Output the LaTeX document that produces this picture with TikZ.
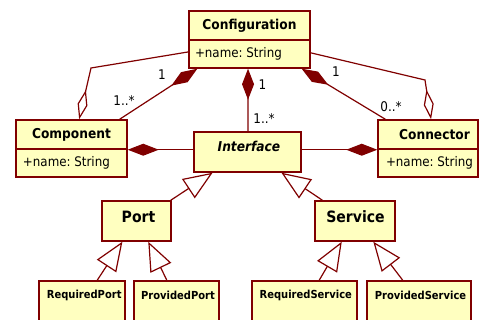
\documentclass[tikz,border=0pt]{standalone}
\usepackage{fontspec}
\setmainfont[FakeStretch=0.9]{DejaVu Sans}
\usetikzlibrary{arrows.meta,calc}
\definecolor{umlred}{HTML}{800000}
\definecolor{umlfill}{HTML}{FFFFC0}
\frenchspacing
\newcommand{\attrtext}[3]{\makebox[#1][l]{\hspace*{#2}#3}}
\begin{document}
\begin{tikzpicture}[x=0.75pt,y=-0.75pt,
  box/.style={draw=umlred, fill=umlfill, line width=1.1pt, inner sep=0pt, rectangle},
  cname/.style={font=\fontsize{10.2}{12}\selectfont\bfseries},
  iname/.style={font=\fontsize{10.2}{12}\selectfont\bfseries\itshape},
  bigname/.style={font=\fontsize{11.7}{13}\selectfont\bfseries},
  smallname/.style={font=\fontsize{8.3}{10}\selectfont\bfseries},
  attr/.style={font=\fontsize{9.9}{12}\selectfont},
  mult/.style={font=\fontsize{10}{12}\selectfont, inner sep=0pt},
  link/.style={draw=umlred, line width=0.9pt},
  compo/.style={link, arrows={Diamond[length=23.25pt,width=9pt]-}},
  compoend/.style={link, arrows={-Diamond[length=23.25pt,width=9pt]}},
  aggr/.style={link, arrows={-Diamond[open,length=22.5pt,width=7.5pt]}},
  gen/.style={link, arrows={-Triangle[open,length=21.75pt,width=17.25pt]}}
]
\clip (0,0) rectangle (479,320);
\fill[white] (0,0) rectangle (479,320);

% Configuration
\node[box, cname, minimum width=90.75pt, minimum height=21.75pt] (confname) at (249.5,25.5) {Configuration};
\node[box, attr, minimum width=90.75pt, minimum height=21pt] (confattr) at (249.5,54) {\attrtext{90.75pt}{4.5pt}{+name: String}};

% Component
\node[box, cname, minimum width=83.25pt, minimum height=21.75pt] (compname) at (71.5,134.5) {Component};
\node[box, attr, minimum width=83.25pt, minimum height=21pt] (compattr) at (71.5,163) {\attrtext{83.25pt}{5.25pt}{+name: String}};

% Connector
\node[box, cname, minimum width=75pt, minimum height=21.75pt] (connname) at (428,134.5) {\hspace*{9.75pt}Connector};
\node[box, attr, minimum width=75pt, minimum height=21pt] (connattr) at (428,163) {\attrtext{75pt}{6pt}{+name: String}};

% Interface
\node[box, minimum width=80.25pt, minimum height=30pt] (iface) at (247.5,152) {};
\node[iname] (ifacetxt) at (249,146) {Interface};

% Port, Service
\node[box, minimum width=51.75pt, minimum height=30pt] (port) at (136.5,221) {};
\node[bigname] (porttxt) at (138.5,217) {Port};
\node[box, minimum width=60pt, minimum height=30pt] (serv) at (355,221) {};
\node[bigname] (servtxt) at (355.5,216.5) {Service};

% Bottom classes
\node[box, minimum width=64.5pt, minimum height=45pt] (reqport) at (82,311) {};
\node[smallname] (reqporttxt) at (84.2,295.5) {RequiredPort};
\node[box, minimum width=63.75pt, minimum height=45pt] (provport) at (176.5,311) {};
\node[smallname] (provporttxt) at (178,295.5) {ProvidedPort};
\node[box, minimum width=78.75pt, minimum height=45pt] (reqserv) at (304.5,311) {};
\node[smallname] (reqservtxt) at (305.8,295.5) {RequiredService};
\node[box, minimum width=78pt, minimum height=45pt] (provserv) at (419,311) {};
\node[smallname] (provservtxt) at (420.5,295.5) {ProvidedService};

% bend points
\coordinate (bendL) at (91,68);
\coordinate (bendR) at (425,80);

% Aggregations
\draw[aggr] ($(confattr.north west)!0.43!(confattr.south west)$) -- (bendL) -- ($(compname.north west)!0.568!(compname.north east)$);
\draw[aggr] ($(confattr.north east)!0.46!(confattr.south east)$) -- (bendR) -- ($(connname.north west)!0.53!(connname.north east)$);

% Compositions
\draw[compo] ($(confattr.south west)!0.074!(confattr.south east)$) -- ($(compname.north west)!0.928!(compname.north east)$);
\draw[compo] ($(confattr.south west)!0.488!(confattr.south east)$) -- ($(iface.north west)!0.505!(iface.north east)$);
\draw[compo] ($(confattr.south west)!0.926!(confattr.south east)$) -- ($(connname.north west)!0.08!(connname.north east)$);
\draw[compo] (compname.south east) -- (compname.south east -| iface.west);
\draw[compoend] (iface.east |- connname.south west) -- (connname.south west);

% Multiplicities
\node[mult] (m1) at (162,74.5) {1};
\node[mult] (m2) at (124,101) {1..*};
\node[mult] (m3) at (262.5,84.5) {1};
\node[mult] (m4) at (264,119) {1..*};
\node[mult] (m5) at (336,71.5) {1};
\node[mult] (m6) at (391,107) {0..*};

% Generalizations
\draw[gen] ($(port.north west)!0.986!(port.north east)$) -- ($(iface.south west)!0.178!(iface.south east)$);
\draw[gen] ($(serv.north west)!0.1!(serv.north east)$) -- ($(iface.south west)!0.813!(iface.south east)$);
\draw[gen] ($(reqport.north west)!0.674!(reqport.north east)$) -- ($(port.south west)!0.3!(port.south east)$);
\draw[gen] ($(provport.north west)!0.388!(provport.north east)$) -- ($(port.south west)!0.667!(port.south east)$);
\draw[gen] ($(reqserv.north west)!0.638!(reqserv.north east)$) -- ($(serv.south west)!0.3375!(serv.south east)$);
\draw[gen] ($(provserv.north west)!0.346!(provserv.north east)$) -- ($(serv.south west)!0.725!(serv.south east)$);
\end{tikzpicture}
\end{document}
